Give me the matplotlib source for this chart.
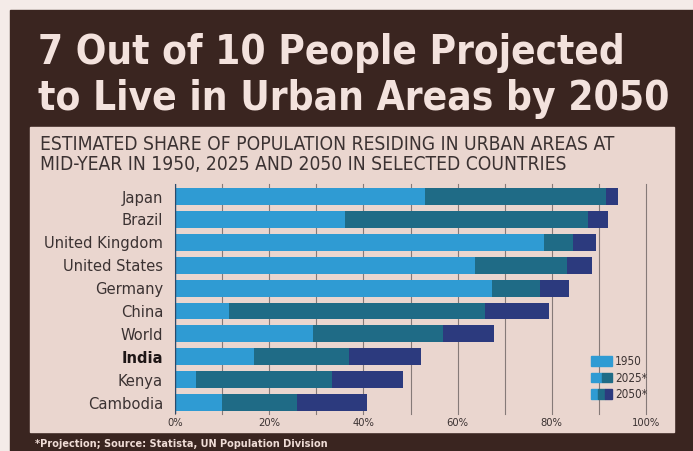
import matplotlib
matplotlib.use("Agg")
import matplotlib.pyplot as plt
from matplotlib.patches import Rectangle, Patch
from matplotlib.legend_handler import HandlerTuple

# values (share of population living in urban areas, %)
countries = ["Japan", "Brazil", "United Kingdom", "United States", "Germany",
             "China", "World", "India", "Kenya", "Cambodia"]
share_1950 = [53.1, 36.0, 78.4, 63.7, 67.4, 11.5, 29.4, 16.8, 4.5, 9.9]
share_2025 = [91.5, 87.6, 84.6, 83.2, 77.4, 65.8, 57.0, 36.9, 33.3, 26.0]
share_2050 = [94.1, 91.9, 89.4, 88.6, 83.7, 79.3, 67.7, 52.2, 48.5, 40.8]
xticks = [0, 20, 40, 60, 80, 100]
years = ["1950", "2025*", "2050*"]

c1950 = "#2f9bd3"
c2025 = "#1f6b86"
c2050 = "#2c3a7e"
paper = "#ead6cf"
dark = "#3a2520"
ink = "#3b3232"

W, H = 693, 451
fig = plt.figure(figsize=(W / 100, H / 100), dpi=100)
fig.patch.set_facecolor("#f4ebe8")


def px(x, y):
    return x / W, 1 - y / H


# dark frame and light inner panel
fig.patches.append(Rectangle(px(10, 451), (W - 10) / W, 441 / H,
                             transform=fig.transFigure, color=dark, zorder=-2))
fig.patches.append(Rectangle(px(30, 432), 644 / W, 305 / H,
                             transform=fig.transFigure, color=paper, zorder=-1))

renderer = fig.canvas.get_renderer()


def fit(t, width):
    bb = t.get_window_extent(renderer)
    t.set_fontsize(t.get_fontsize() * width / bb.width)
    return t.get_fontsize()


tfont = dict(family="DejaVu Sans", fontstretch="condensed", weight="bold",
             color="#f3e2dd")
t1 = fig.text(*px(38, 64), "7 Out of 10 People Projected", fontsize=30, **tfont)
t2 = fig.text(*px(38, 110), "to Live in Urban Areas by 2050", fontsize=30, **tfont)
fit(t1, 587)
fit(t2, 630)

sfont = dict(family="DejaVu Sans", fontstretch="condensed", color=ink)
s1 = fig.text(*px(40, 150), "ESTIMATED SHARE OF POPULATION RESIDING IN URBAN AREAS AT",
              fontsize=12, **sfont)
size = fit(s1, 571)
fig.text(*px(40, 170), "MID-YEAR IN 1950, 2025 AND 2050 IN SELECTED COUNTRIES",
         fontsize=size, **sfont)

f1 = fig.text(*px(35, 447), "*Projection; Source: Statista, UN Population Division",
              fontsize=7, family="DejaVu Sans", fontstretch="condensed",
              weight="bold", color="#efdcd6")
fit(f1, 292)

# chart
l, b = px(175, 414)
ax = fig.add_axes([l, b, 471 / W, 230 / H])
ax.set_zorder(1)
ax.set_facecolor("none")
pos = list(range(len(countries)))
seg_2025 = [b2 - a for a, b2 in zip(share_1950, share_2025)]
seg_2050 = [c - b2 for b2, c in zip(share_2025, share_2050)]
ax.barh(pos, share_1950, height=0.74, color=c1950, zorder=3)
ax.barh(pos, seg_2025, left=share_1950, height=0.74, color=c2025, zorder=3)
ax.barh(pos, seg_2050, left=share_2025, height=0.74, color=c2050, zorder=3)

ax.set_xlim(0, 100)
ax.set_ylim(9.5, -0.55)
ax.set_xticks(xticks)
ax.set_xticks(range(0, 101, 10), minor=True)
ax.set_xticklabels([f"{v}%" for v in xticks], fontsize=8, color=ink,
                   family="DejaVu Sans", fontstretch="condensed")
ax.grid(axis="x", which="both", color="#857a78", linewidth=0.8, zorder=1)
ax.tick_params(axis="x", which="both", length=0, pad=3)
ax.set_yticks(pos)
ax.set_yticklabels(countries, family="DejaVu Sans", fontstretch="condensed",
                   color=ink)
ax.tick_params(axis="y", length=0, pad=8.6)
for s in ax.spines.values():
    s.set_visible(False)
ax.axvline(0, color="#2b4a6a", linewidth=1.0, zorder=4)

fig.canvas.draw()
for tk in ax.xaxis.get_major_ticks() + ax.xaxis.get_minor_ticks():
    tk.gridline.set_clip_on(False)
labels = ax.get_yticklabels()
uk = labels[2]
ysize = uk.get_fontsize() * 118 / uk.get_window_extent(renderer).width
for lab in labels:
    lab.set_fontsize(ysize)
labels[7].set_fontweight("bold")
labels[7].set_color("#1e1616")

handles = [Patch(color=c1950),
           (Patch(color=c1950), Patch(color=c2025)),
           (Patch(color=c1950), Patch(color=c2025), Patch(color=c2050))]
leg = fig.legend(handles, years, loc="upper left", bbox_to_anchor=px(591, 355),
                 frameon=False, borderpad=0, handlelength=1.8,
                 handleheight=0.85, handletextpad=0.25, labelspacing=0.3,
                 borderaxespad=0,
                 handler_map={tuple: HandlerTuple(ndivide=None, pad=0)},
                 prop=dict(family="DejaVu Sans", stretch="condensed", size=8.5))
leg.set_zorder(5)
for t in leg.get_texts():
    t.set_color(ink)

fig.savefig("out.png", dpi=100, facecolor=fig.get_facecolor())
